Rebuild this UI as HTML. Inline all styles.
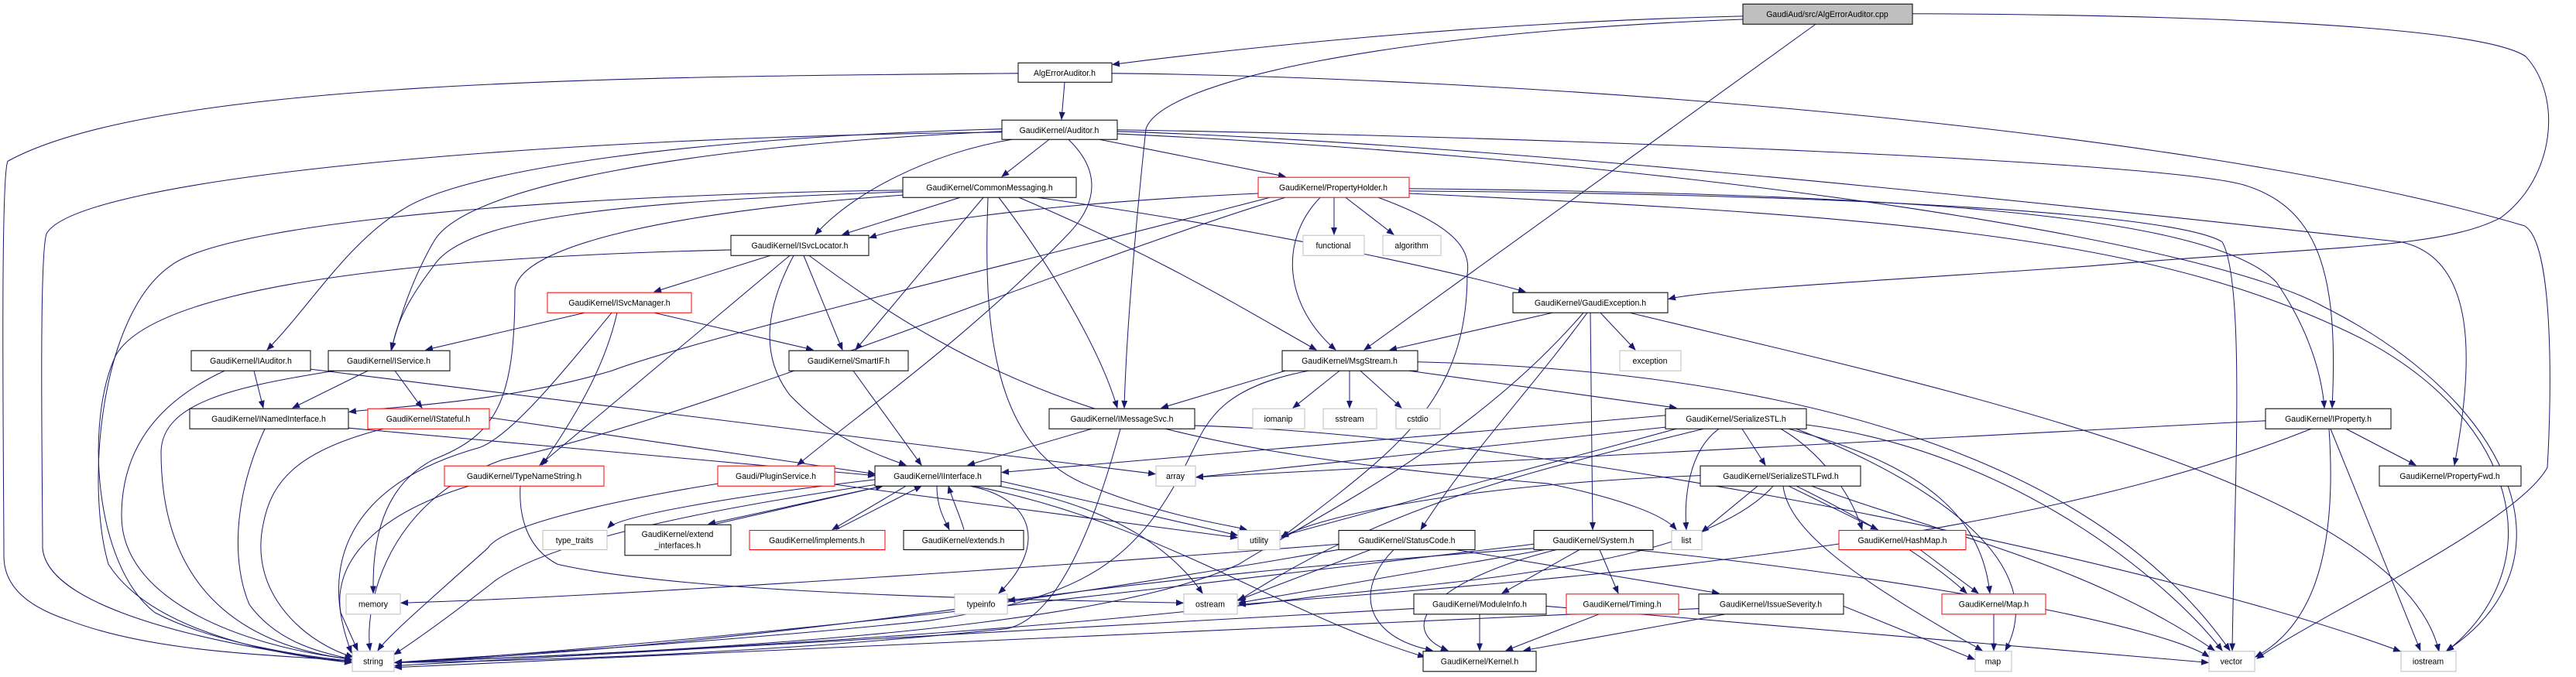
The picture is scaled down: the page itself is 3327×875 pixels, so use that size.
<!DOCTYPE html>
<html><head><meta charset="utf-8"><style>
html,body{margin:0;padding:0;background:#fff;}
svg{display:block;}
text{font-family:"Liberation Sans",sans-serif;font-size:10.5px;fill:#000;}
.e{fill:none;stroke:#191970;stroke-width:1;marker-end:url(#a);}
.n{fill:#fff;stroke:#000;stroke-width:1;}
.r{fill:#fff;stroke:#f00;stroke-width:1;}
.g{fill:#fff;stroke:#bfbfbf;stroke-width:1;}
</style></head><body>
<svg width="3327" height="875" viewBox="0 0 3327 875" xmlns="http://www.w3.org/2000/svg">
<defs><marker id="a" markerWidth="10" markerHeight="8" refX="9" refY="4" orient="auto" markerUnits="userSpaceOnUse"><path d="M0,0 L10,4 L0,8 z" fill="#191970"/></marker></defs>
<g transform="scale(1,1.0418)">
<g>
<path class="e" d="M2251,20 C1900,28 1600,60 1437,80"/>
<path class="e" d="M2251,24 C1800,40 1500,100 1480,160 C1470,250 1455,400 1452,506"/>
<path class="e" d="M2345,30 L1762,434"/>
<path class="e" d="M2470,17 C2800,18 3200,30 3262,70 C3310,120 3300,220 3230,270 C3150,310 3000,305 2700,330 C2400,350 2200,360 2155,371"/>
<path class="e" d="M1375,102 L1371,148"/>
<path class="e" d="M1315,91 C800,95 200,100 10,200 C0,220 5,600 5,690 C5,740 60,760 90,770 C200,810 350,812 454,820"/>
<path class="e" d="M1436,91 C1900,95 2800,150 3260,280 C3300,300 3295,500 3290,580 C3250,650 3000,760 2915,817"/>
<path class="e" d="M1294,160 C900,170 600,210 520,260 C450,300 400,380 345,434"/>
<path class="e" d="M1294,163 C900,180 600,230 560,300 C530,350 515,400 505,434"/>
<path class="e" d="M1294,164 C700,170 100,220 60,290 C50,320 55,600 55,680 C60,740 200,790 454,822"/>
<path class="e" d="M1355,173 L1294,219"/>
<path class="e" d="M1307,173 C1200,190 1100,240 1053,291"/>
<path class="e" d="M1420,173 L1660,219"/>
<path class="e" d="M1380,173 C1420,210 1420,250 1380,290 C1250,420 1100,520 1030,577"/>
<path class="e" d="M1443,161 C2000,170 2800,200 2900,230 C3000,260 3020,350 3012,506"/>
<path class="e" d="M1443,163 C2000,180 2900,280 3100,300 C3200,320 3195,450 3170,577"/>
<path class="e" d="M1443,166 C2200,200 2850,300 3000,380 C3250,500 3330,700 3160,807"/>
<path class="e" d="M1240,245 L1088,291"/>
<path class="e" d="M1270,245 L1105,434"/>
<path class="e" d="M1290,245 C1350,320 1420,430 1443,506"/>
<path class="e" d="M1316,245 C1500,320 1600,380 1700,434"/>
<path class="e" d="M1340,245 C1600,280 1850,330 1970,362"/>
<path class="e" d="M1276,245 C1270,400 1280,550 1400,600 C1500,640 1580,650 1610,657"/>
<path class="e" d="M1166,236 C800,240 300,270 220,330 C130,390 110,600 140,700 C200,790 380,815 454,822"/>
<path class="e" d="M1166,238 C800,250 600,270 560,330 C520,380 510,410 506,434"/>
<path class="e" d="M1166,242 C900,260 670,300 665,360 C665,500 640,540 560,570 C480,610 482,700 482,736"/>
<path class="e" d="M1625,240 C1400,250 1200,270 1123,295"/>
<path class="e" d="M1705,245 C1650,300 1660,380 1725,434"/>
<path class="e" d="M1723,245 L1723,291"/>
<path class="e" d="M1738,245 L1800,291"/>
<path class="e" d="M1780,245 C1880,280 1900,310 1895,340 C1895,500 1800,560 1655,667"/>
<path class="e" d="M1820,234 C2400,240 2850,260 2940,350 C2990,420 3000,480 3002,506"/>
<path class="e" d="M1820,237 C2300,240 2800,260 2870,300 C2900,350 2886,600 2883,807"/>
<path class="e" d="M1820,240 C2500,270 2800,300 3050,420 C3250,520 3300,700 3160,808"/>
<path class="e" d="M1640,245 C1300,330 900,420 790,460 C650,500 500,505 451,511"/>
<path class="e" d="M1660,245 C1400,320 900,520 650,570 C500,620 470,750 478,807"/>
<path class="e" d="M995,317 L845,362"/>
<path class="e" d="M1038,317 L1088,434"/>
<path class="e" d="M1025,317 C990,380 980,440 1020,490 C1070,540 1120,560 1170,577"/>
<path class="e" d="M1020,317 L697,577"/>
<path class="e" d="M1045,317 C1300,500 1500,560 2000,600 C2100,620 2150,640 2165,657"/>
<path class="e" d="M944,310 C500,320 200,360 150,440 C110,520 120,700 200,760 C280,800 400,815 454,820"/>
<path class="e" d="M755,388 L550,434"/>
<path class="e" d="M845,388 L1050,434"/>
<path class="e" d="M797,388 C780,460 740,520 700,577"/>
<path class="e" d="M790,388 C720,470 660,540 620,555 C450,600 410,700 454,810"/>
<path class="e" d="M475,460 L378,506"/>
<path class="e" d="M510,460 L545,506"/>
<path class="e" d="M432,460 C300,480 210,500 208,560 C208,720 300,800 454,818"/>
<path class="e" d="M328,460 L340,506"/>
<path class="e" d="M290,460 C200,500 157,560 157,640 C157,740 300,800 454,818"/>
<path class="e" d="M401,458 L1492,588"/>
<path class="e" d="M450,531 L1130,590"/>
<path class="e" d="M342,532 C300,620 300,700 322,750 C360,800 420,810 454,818"/>
<path class="e" d="M632,518 L1130,588"/>
<path class="e" d="M495,532 C380,560 350,600 340,650 C320,740 400,800 456,815"/>
<path class="e" d="M605,603 C480,640 430,700 440,760 L462,807"/>
<path class="e" d="M672,603 C670,640 680,680 720,700 C900,740 1400,745 1528,748"/>
<path class="e" d="M1102,460 L1190,577"/>
<path class="e" d="M1410,532 L1250,577"/>
<path class="e" d="M1447,532 C1400,700 1350,770 1300,780 C1000,810 700,820 510,822"/>
<path class="e" d="M1543,528 C2000,540 2800,700 3100,808"/>
<path class="e" d="M1078,601 L1598,667"/>
<path class="e" d="M927,600 C800,620 650,650 630,680 C560,740 500,790 488,807"/>
<path class="e" d="M1130,595 C950,615 800,640 785,655"/>
<path class="e" d="M1140,603 L915,650"/>
<path class="e" d="M920,651 L1140,603"/>
<path class="e" d="M1170,603 L1075,657"/>
<path class="e" d="M1080,657 L1190,603"/>
<path class="e" d="M1210,603 C1210,630 1220,645 1226,657"/>
<path class="e" d="M1245,657 C1240,640 1230,620 1225,603"/>
<path class="e" d="M1293,597 L1598,664"/>
<path class="e" d="M1253,603 C1340,620 1350,680 1290,736"/>
<path class="e" d="M1290,603 C1450,630 1520,690 1553,736"/>
<path class="e" d="M1140,600 C850,640 700,680 640,720 C560,780 520,805 509,812"/>
<path class="e" d="M1258,603 C1500,650 1650,760 1840,815"/>
<path class="e" d="M1660,460 L1500,506"/>
<path class="e" d="M1730,460 L1670,506"/>
<path class="e" d="M1743,460 L1743,506"/>
<path class="e" d="M1757,460 L1810,506"/>
<path class="e" d="M1820,460 L2165,506"/>
<path class="e" d="M1690,460 C1580,480 1560,520 1540,560 C1470,700 1400,740 1200,770 C900,800 600,815 510,822"/>
<path class="e" d="M1831,449 C2300,460 2700,560 2880,807"/>
<path class="e" d="M2005,388 L1795,434"/>
<path class="e" d="M2067,388 L2112,434"/>
<path class="e" d="M2054,388 L2057,657"/>
<path class="e" d="M2050,388 C1980,480 1900,560 1835,657"/>
<path class="e" d="M2045,388 C1900,550 1700,640 1600,700 C1400,790 800,810 510,822"/>
<path class="e" d="M2105,388 C2500,480 3100,600 3150,808"/>
<path class="e" d="M2151,530 L1545,592"/>
<path class="e" d="M2155,515 L1294,586"/>
<path class="e" d="M2250,532 L2280,577"/>
<path class="e" d="M2220,532 C2180,560 2175,620 2178,657"/>
<path class="e" d="M2300,532 C2350,560 2390,610 2405,657"/>
<path class="e" d="M2310,532 C2500,580 2560,650 2570,736"/>
<path class="e" d="M2333,527 C2600,560 2800,720 2870,807"/>
<path class="e" d="M2200,532 C2000,580 1800,620 1600,745"/>
<path class="e" d="M2165,532 L1655,665"/>
<path class="e" d="M2320,532 C2500,600 2650,700 2590,807"/>
<path class="e" d="M2196,590 C1900,600 1700,640 1655,667"/>
<path class="e" d="M2270,603 L2198,660"/>
<path class="e" d="M2310,603 L2425,657"/>
<path class="e" d="M2320,603 C2420,650 2500,700 2540,736"/>
<path class="e" d="M2303,603 C2310,660 2400,720 2560,807"/>
<path class="e" d="M2340,603 C2500,660 2700,700 2860,807"/>
<path class="e" d="M2290,603 C2200,700 1900,720 1700,740 C1300,790 700,815 510,822"/>
<path class="e" d="M2480,682 L2555,736"/>
<path class="e" d="M2575,762 L2575,807"/>
<path class="e" d="M2926,522 L1545,592"/>
<path class="e" d="M3030,532 L3120,577"/>
<path class="e" d="M3008,532 C3020,700 2980,780 2913,815"/>
<path class="e" d="M3010,532 L3126,807"/>
<path class="e" d="M2985,532 C2600,680 2000,720 1600,750"/>
<path class="e" d="M1729,675 C1400,700 800,740 518,748"/>
<path class="e" d="M1800,682 C1750,730 1760,790 1850,807"/>
<path class="e" d="M1880,682 L2220,736"/>
<path class="e" d="M1770,682 L1598,745"/>
<path class="e" d="M1740,680 C1500,720 1000,800 510,822"/>
<path class="e" d="M2040,682 L1940,736"/>
<path class="e" d="M2066,682 L2090,736"/>
<path class="e" d="M2010,682 C1850,720 1800,780 1870,807"/>
<path class="e" d="M1981,675 C1500,730 900,800 510,822"/>
<path class="e" d="M1995,682 L1600,748"/>
<path class="e" d="M1985,680 C1700,700 1500,720 1302,745"/>
<path class="e" d="M2110,682 C2500,720 2800,780 2853,815"/>
<path class="e" d="M1911,762 L1911,807"/>
<path class="e" d="M1826,755 L510,826"/>
<path class="e" d="M1997,752 L2852,822"/>
<path class="e" d="M2065,762 L1945,807"/>
<path class="e" d="M2228,762 L1968,807"/>
<path class="e" d="M2381,752 L2550,818"/>
<path class="e" d="M2194,755 L510,828"/>
</g>
<g>
<rect x="2251" y="5" width="219" height="25" fill="#bfbfbf" stroke="#000"/><text x="2360" y="21" text-anchor="middle">GaudiAud/src/AlgErrorAuditor.cpp</text>
<rect class="n" x="1315" y="78" width="121" height="24"/><text x="1375" y="94" text-anchor="middle">AlgErrorAuditor.h</text>
<rect class="n" x="1294" y="149" width="149" height="24"/><text x="1368" y="165" text-anchor="middle">GaudiKernel/Auditor.h</text>
<rect class="n" x="1166" y="220" width="224" height="25"/><text x="1278" y="236" text-anchor="middle">GaudiKernel/CommonMessaging.h</text>
<rect class="r" x="1625" y="220" width="195" height="25"/><text x="1722" y="236" text-anchor="middle">GaudiKernel/PropertyHolder.h</text>
<rect class="g" x="1683" y="292" width="79" height="25"/><text x="1722" y="308" text-anchor="middle">functional</text>
<rect class="g" x="1786" y="292" width="75" height="25"/><text x="1823" y="308" text-anchor="middle">algorithm</text>
<rect class="n" x="944" y="292" width="178" height="25"/><text x="1033" y="308" text-anchor="middle">GaudiKernel/ISvcLocator.h</text>
<rect class="r" x="707" y="363" width="186" height="25"/><text x="800" y="379" text-anchor="middle">GaudiKernel/ISvcManager.h</text>
<rect class="n" x="1954" y="363" width="200" height="25"/><text x="2054" y="379" text-anchor="middle">GaudiKernel/GaudiException.h</text>
<rect class="n" x="247" y="435" width="154" height="25"/><text x="324" y="451" text-anchor="middle">GaudiKernel/IAuditor.h</text>
<rect class="n" x="424" y="435" width="157" height="25"/><text x="502" y="451" text-anchor="middle">GaudiKernel/IService.h</text>
<rect class="n" x="1019" y="435" width="154" height="25"/><text x="1096" y="451" text-anchor="middle">GaudiKernel/SmartIF.h</text>
<rect class="n" x="1656" y="435" width="175" height="25"/><text x="1743" y="451" text-anchor="middle">GaudiKernel/MsgStream.h</text>
<rect class="g" x="2092" y="435" width="79" height="25"/><text x="2131" y="451" text-anchor="middle">exception</text>
<rect class="n" x="245" y="507" width="205" height="25"/><text x="347" y="523" text-anchor="middle">GaudiKernel/INamedInterface.h</text>
<rect class="r" x="475" y="507" width="157" height="25"/><text x="553" y="523" text-anchor="middle">GaudiKernel/IStateful.h</text>
<rect class="n" x="1355" y="507" width="188" height="25"/><text x="1449" y="523" text-anchor="middle">GaudiKernel/IMessageSvc.h</text>
<rect class="g" x="1618" y="507" width="67" height="25"/><text x="1651" y="523" text-anchor="middle">iomanip</text>
<rect class="g" x="1709" y="507" width="69" height="25"/><text x="1743" y="523" text-anchor="middle">sstream</text>
<rect class="g" x="1803" y="507" width="57" height="25"/><text x="1831" y="523" text-anchor="middle">cstdio</text>
<rect class="n" x="2151" y="507" width="182" height="25"/><text x="2242" y="523" text-anchor="middle">GaudiKernel/SerializeSTL.h</text>
<rect class="n" x="2926" y="507" width="162" height="25"/><text x="3007" y="523" text-anchor="middle">GaudiKernel/IProperty.h</text>
<rect class="r" x="574" y="578" width="206" height="25"/><text x="677" y="594" text-anchor="middle">GaudiKernel/TypeNameString.h</text>
<rect class="r" x="927" y="578" width="151" height="25"/><text x="1002" y="594" text-anchor="middle">Gaudi/PluginService.h</text>
<rect class="n" x="1130" y="578" width="163" height="25"/><text x="1211" y="594" text-anchor="middle">GaudiKernel/IInterface.h</text>
<rect class="g" x="1493" y="578" width="51" height="25"/><text x="1518" y="594" text-anchor="middle">array</text>
<rect class="n" x="2196" y="578" width="207" height="25"/><text x="2300" y="594" text-anchor="middle">GaudiKernel/SerializeSTLFwd.h</text>
<rect class="n" x="3073" y="578" width="183" height="25"/><text x="3164" y="594" text-anchor="middle">GaudiKernel/PropertyFwd.h</text>
<rect class="g" x="701" y="658" width="83" height="24"/><text x="742" y="674" text-anchor="middle">type_traits</text>
<rect class="n" x="807" y="651" width="137" height="38"/><text x="875" y="666" text-anchor="middle">GaudiKernel/extend</text><text x="875" y="680" text-anchor="middle">_interfaces.h</text>
<rect class="r" x="968" y="658" width="175" height="24"/><text x="1055" y="674" text-anchor="middle">GaudiKernel/implements.h</text>
<rect class="n" x="1167" y="658" width="155" height="24"/><text x="1244" y="674" text-anchor="middle">GaudiKernel/extends.h</text>
<rect class="g" x="1599" y="658" width="54" height="24"/><text x="1626" y="674" text-anchor="middle">utility</text>
<rect class="n" x="1729" y="658" width="176" height="24"/><text x="1817" y="674" text-anchor="middle">GaudiKernel/StatusCode.h</text>
<rect class="n" x="1981" y="658" width="154" height="24"/><text x="2058" y="674" text-anchor="middle">GaudiKernel/System.h</text>
<rect class="g" x="2159" y="658" width="39" height="24"/><text x="2178" y="674" text-anchor="middle">list</text>
<rect class="r" x="2375" y="658" width="164" height="24"/><text x="2457" y="674" text-anchor="middle">GaudiKernel/HashMap.h</text>
<rect class="g" x="447" y="737" width="70" height="25"/><text x="482" y="753" text-anchor="middle">memory</text>
<rect class="g" x="1233" y="737" width="68" height="25"/><text x="1267" y="753" text-anchor="middle">typeinfo</text>
<rect class="g" x="1529" y="737" width="69" height="25"/><text x="1563" y="753" text-anchor="middle">ostream</text>
<rect class="n" x="1826" y="737" width="171" height="25"/><text x="1911" y="753" text-anchor="middle">GaudiKernel/ModuleInfo.h</text>
<rect class="r" x="2023" y="737" width="145" height="25"/><text x="2095" y="753" text-anchor="middle">GaudiKernel/Timing.h</text>
<rect class="n" x="2194" y="737" width="187" height="25"/><text x="2287" y="753" text-anchor="middle">GaudiKernel/IssueSeverity.h</text>
<rect class="r" x="2508" y="737" width="134" height="25"/><text x="2575" y="753" text-anchor="middle">GaudiKernel/Map.h</text>
<rect class="g" x="455" y="808" width="54" height="25"/><text x="482" y="824" text-anchor="middle">string</text>
<rect class="n" x="1838" y="808" width="146" height="25"/><text x="1911" y="824" text-anchor="middle">GaudiKernel/Kernel.h</text>
<rect class="g" x="2551" y="808" width="47" height="25"/><text x="2574" y="824" text-anchor="middle">map</text>
<rect class="g" x="2853" y="808" width="59" height="25"/><text x="2882" y="824" text-anchor="middle">vector</text>
<rect class="g" x="3101" y="808" width="71" height="25"/><text x="3136" y="824" text-anchor="middle">iostream</text>
</g>
</g>
</svg>
</body></html>
